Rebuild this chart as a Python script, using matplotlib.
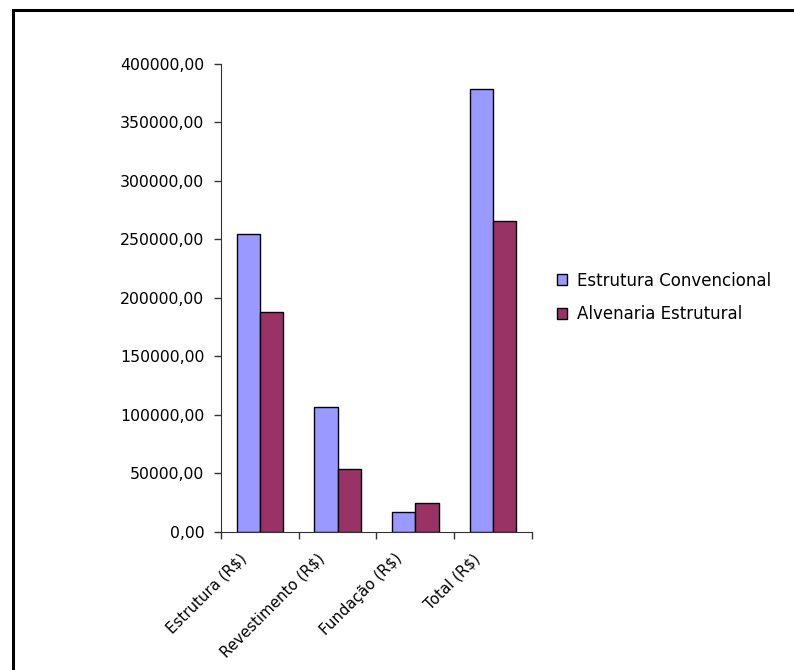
import matplotlib
matplotlib.use("Agg")
import matplotlib.pyplot as plt
import numpy as np
from matplotlib.patches import Rectangle
from matplotlib.transforms import ScaledTranslation

categorias = ["Estrutura (R$)", "Revestimento (R$)", "Fundação (R$)", "Total (R$)"]
convencional = [254600, 106500, 17100, 378200]
alvenaria = [187500, 53700, 24300, 265500]
series_nomes = ["Estrutura Convencional", "Alvenaria Estrutural"]
yticks = [0, 50000, 100000, 150000, 200000, 250000, 300000, 350000, 400000]

plt.rcParams['font.family'] = ['DejaVu Sans']

fig = plt.figure(figsize=(7.94, 6.7), dpi=100)
ax = fig.add_axes([0.2783, 0.2064, 0.3917, 0.6987])

# moldura (so esquerda e topo aparecem)
fig.patches.append(Rectangle((13 / 794, -0.1), 1.2, 1 - 10.5 / 670 + 0.1,
                             transform=fig.transFigure, fill=False,
                             edgecolor='black', linewidth=2.2))

x = np.arange(len(categorias))
w = 0.3
ax.bar(x - w / 2, convencional, w, color='#9999FF', edgecolor='black',
       linewidth=1, label=series_nomes[0])
ax.bar(x + w / 2, alvenaria, w, color='#993366', edgecolor='black',
       linewidth=1, label=series_nomes[1])

ax.set_xlim(-0.5, len(categorias) - 0.5)
ax.set_ylim(0, 400000)
ax.set_yticks(yticks)
ax.set_yticklabels([f"{v:.2f}".replace(".", ",") for v in yticks], fontsize=11.3)

# ticks nas divisas das categorias, rotulos no centro
ax.set_xticks(np.arange(-0.5, len(categorias), 1.0))
ax.set_xticklabels([])
offset = ScaledTranslation(-21 / 100, -19 / 100, fig.dpi_scale_trans)
for xi, nome in zip(x, categorias):
    ax.text(xi, 0, nome, transform=ax.get_xaxis_transform() + offset,
            rotation=45, ha='right', va='top', rotation_mode='anchor',
            fontsize=10.8)
ax.tick_params(axis='both', which='major', length=5, width=1, color='#333333')
ax.tick_params(axis='y', pad=7)

ax.spines['top'].set_visible(False)
ax.spines['right'].set_visible(False)
ax.spines['left'].set_color('#333333')
ax.spines['bottom'].set_color('#333333')

fig.legend(loc='center left', bbox_to_anchor=(0.683, 0.556), frameon=False,
           fontsize=12, handlelength=0.6, handleheight=0.6, handletextpad=0.6,
           labelspacing=0.95)

fig.savefig("out.png", dpi=100)
